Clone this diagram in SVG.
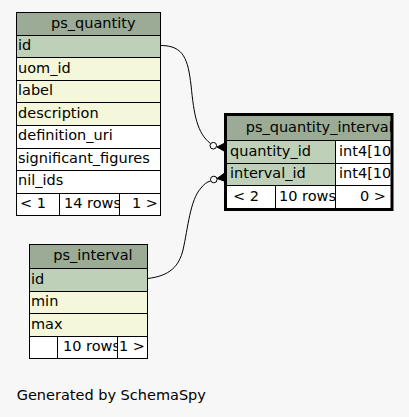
<svg xmlns="http://www.w3.org/2000/svg" width="409" height="417" viewBox="0 0 409 417">
<style>
text{font-family:"DejaVu Sans","Liberation Sans",sans-serif;font-size:14.5px;fill:#000}
.hd{fill:#9bab96}
.pk{fill:#bed1b8}
.ix{fill:#f4f7da}
.bd{fill:#ffffff}
.ln{stroke:#000;stroke-width:1;fill:none}
.edge{stroke:#000;stroke-width:1;fill:none}
.dot{stroke:#000;stroke-width:1;fill:#f7f7f7}
.crow{fill:#000;stroke:#000;stroke-width:1}
.r{text-anchor:end}
</style>
<defs>
<clipPath id="cq1"><rect x="60" y="194" width="59" height="21"/></clipPath>
<clipPath id="ci1"><rect x="58" y="337" width="59" height="21"/></clipPath>
<clipPath id="cqi"><rect x="227" y="116" width="166" height="93"/></clipPath>
<clipPath id="cqi2"><rect x="276" y="186" width="59" height="21"/></clipPath>
</defs>
<rect width="409" height="417" fill="#f7f7f7"/>

<g id="ps_quantity">
<rect class="hd" x="16.5" y="12.5" width="144" height="23"/>
<rect class="pk" x="16.5" y="35.5" width="144" height="22"/>
<rect class="ix" x="16.5" y="57.5" width="144" height="68"/>
<rect class="bd" x="16.5" y="125.5" width="144" height="90"/>
<rect class="ln" x="16.5" y="12.5" width="144" height="203"/>
<path class="ln" d="M16.5,35.5H160.5M16.5,57.5H160.5M16.5,80.5H160.5M16.5,102.5H160.5M16.5,125.5H160.5M16.5,148.5H160.5M16.5,170.5H160.5M16.5,193.5H160.5M59.5,193.5V215.5M119.5,193.5V215.5"/>
<text x="51" y="27.5">ps_quantity</text>
<text x="18" y="49.5">id</text>
<text x="18" y="72.5">uom_id</text>
<text x="18" y="94.5">label</text>
<text x="18" y="117.5">description</text>
<text x="18" y="139.5">definition_uri</text>
<text x="18" y="162.5">significant_figures</text>
<text x="18" y="184.5">nil_ids</text>
<text x="20" y="207.5">&lt; 1</text>
<text x="64" y="207.5" clip-path="url(#cq1)">14 rows</text>
<text class="r" x="158" y="207.5">1 &gt;</text>
</g>

<g id="ps_quantity_interval">
<rect class="hd" x="227" y="116" width="164" height="24"/>
<rect class="pk" x="227" y="140" width="108" height="45.5"/>
<rect class="bd" x="335" y="140" width="56" height="45.5"/>
<rect class="bd" x="227" y="185.5" width="164" height="23"/>
<path class="ln" d="M227,140.5H391M227,163.5H391M227,185.5H391M335.5,140.5V208M275.5,185.5V208"/>
<g clip-path="url(#cqi)">
<text x="245.7" y="131.5">ps_quantity_interval</text>
<text x="230" y="155.5">quantity_id</text>
<text x="230" y="177.5">interval_id</text>
<text x="339" y="155.5">int4[10]</text>
<text x="339" y="177.5">int4[10]</text>
<text x="233" y="200.5">&lt; 2</text>
<text x="279" y="200.5" clip-path="url(#cqi2)">10 rows</text>
<text class="r" x="386" y="200.5">0 &gt;</text>
</g>
<rect x="225.5" y="114.5" width="166.5" height="95" fill="none" stroke="#000" stroke-width="3"/>
</g>

<g id="ps_interval">
<rect class="hd" x="29.5" y="244.5" width="118" height="24"/>
<rect class="pk" x="29.5" y="268.5" width="118" height="23"/>
<rect class="ix" x="29.5" y="291.5" width="118" height="45"/>
<rect class="bd" x="29.5" y="336.5" width="118" height="22"/>
<rect class="ln" x="29.5" y="244.5" width="118" height="114"/>
<path class="ln" d="M29.5,268.5H147.5M29.5,291.5H147.5M29.5,313.5H147.5M29.5,336.5H147.5M57.5,336.5V358.5M117.5,336.5V358.5"/>
<text x="53.3" y="259.5">ps_interval</text>
<text x="31" y="283.5">id</text>
<text x="31" y="305.5">min</text>
<text x="31" y="328.5">max</text>
<text x="63" y="350.5" clip-path="url(#ci1)">10 rows</text>
<text class="r" x="145" y="350.5">1 &gt;</text>
</g>

<g id="connectors">
<path class="edge" d="M161,45.5C184,45.5 188,60 191,85C194,115 197,133 210.5,143.5"/>
<circle class="dot" cx="213.3" cy="145.7" r="3.3"/>
<polygon class="crow" points="217,147 224,143.5 224,151"/>
<path class="edge" d="M147.5,278.5C170,276 179,266 183,250C188,228 190,200 201,188C204,184 207,182 210.5,181"/>
<circle class="dot" cx="213.8" cy="179.5" r="3.3"/>
<polygon class="crow" points="217,178.5 224,173.5 224,181"/>
</g>

<text x="16.7" y="400">Generated by SchemaSpy</text>
</svg>
